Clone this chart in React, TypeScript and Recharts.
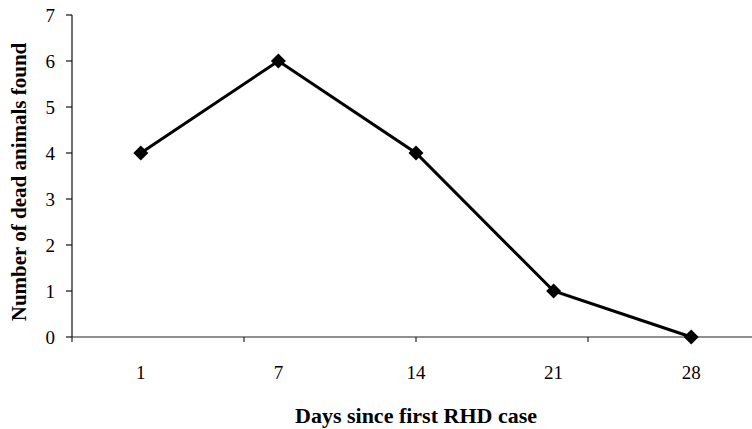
import React from 'react'
import { ComposedChart, Line, XAxis, YAxis, Label } from 'recharts'

// days since first case
const DAYS = ['1', '7', '14', '21', '28']
// dead animals found per day
const DEAD = [4, 6, 4, 1, 0]
const Y_TICKS = [0, 1, 2, 3, 4, 5, 6, 7]
const BOUNDARY_TICKS = [0, 1, 2, 3, 4, 5]

const data = DAYS.map((d, i) => ({ day: d, dead: DEAD[i] }))

const FONT = '"Liberation Serif", "Times New Roman", serif'

function Diamond(props: any) {
  const { cx, cy } = props
  if (cx == null || cy == null) return null
  const r = 7.5
  return (
    <path
      d={`M${cx},${cy - r} L${cx + r},${cy} L${cx},${cy + r} L${cx - r},${cy} Z`}
      fill="#000"
    />
  )
}

const NoLabel = () => <g />

export default function App() {
  return (
    <div style={{ position: 'absolute', left: 0, top: 0, width: 752, height: 429, overflow: 'hidden', background: '#fff' }}>
      <ComposedChart
        width={772}
        height={429}
        data={data}
        margin={{ top: 15, right: 12, bottom: 0, left: 0 }}
        style={{ fontFamily: FONT }}
      >
        {/* axis line with tick marks between categories, like the original */}
        <XAxis
          type="number"
          domain={[0, 5]}
          ticks={BOUNDARY_TICKS}
          tick={<NoLabel />}
          tickSize={5}
          height={1}
          stroke="#222"
          strokeWidth={1.2}
        />
        <XAxis
          xAxisId="cat"
          dataKey="day"
          scale="band"
          height={91}
          axisLine={false}
          tickLine={false}
          tickSize={0}
          tickMargin={28}
          tick={{ fontSize: 19, fill: '#000', fontFamily: FONT }}
        >
          <Label
            value="Days since first RHD case"
            position="insideBottom"
            offset={6}
            style={{ fontSize: 22, fontWeight: 'bold', fill: '#000', fontFamily: FONT }}
          />
        </XAxis>
        <YAxis
          domain={[0, 7]}
          ticks={Y_TICKS}
          width={72}
          tickSize={6}
          tickMargin={11}
          stroke="#111"
          strokeWidth={1.2}
          tick={{ fontSize: 19, fill: '#000', fontFamily: FONT }}
        >
          <Label
            value="Number of dead animals found"
            angle={-90}
            position="insideLeft"
            offset={19}
            dy={6}
            style={{ textAnchor: 'middle', fontSize: 21, fontWeight: 'bold', fill: '#000', fontFamily: FONT }}
          />
        </YAxis>
        <Line
          xAxisId="cat"
          dataKey="dead"
          stroke="#000"
          strokeWidth={3}
          dot={<Diamond />}
          activeDot={false}
          isAnimationActive={false}
        />
      </ComposedChart>
    </div>
  )
}
